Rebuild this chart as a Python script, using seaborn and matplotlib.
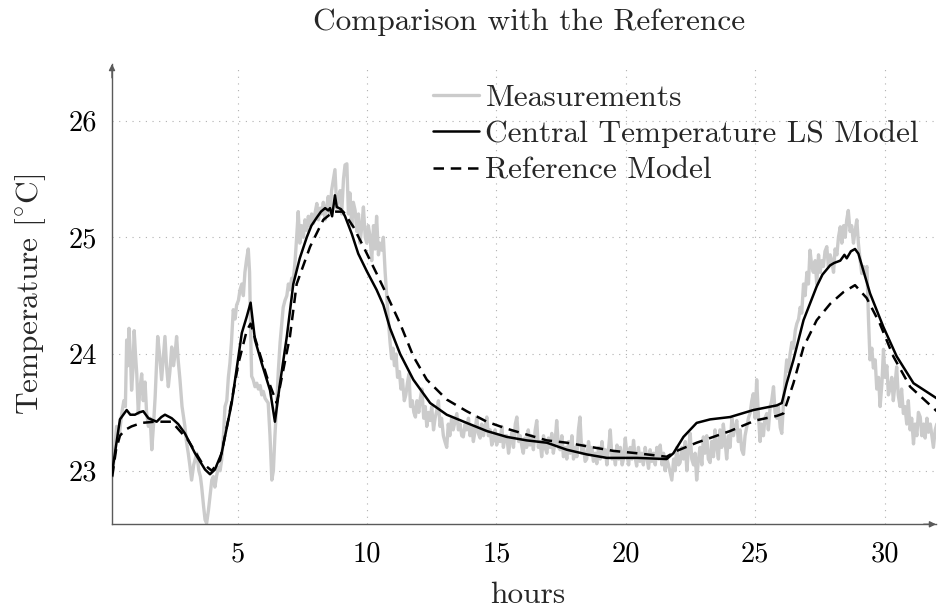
import matplotlib
matplotlib.use("Agg")
import matplotlib.pyplot as plt
import seaborn as sns
import pandas as pd

# ---------------- data ----------------
meas_hours = [
    0.15, 0.22, 0.32, 0.42, 0.52, 0.60, 0.66, 0.71, 0.76, 0.80,
    0.86, 0.90, 0.95, 1.00, 1.05, 1.10, 1.16, 1.22, 1.29, 1.35,
    1.42, 1.48, 1.55, 1.62, 1.68, 1.75, 1.81, 1.86, 1.91, 1.98,
    2.06, 2.12, 2.19, 2.25, 2.32, 2.38, 2.45, 2.52, 2.58, 2.64,
    2.70, 2.77, 2.85, 2.96, 3.02, 3.09, 3.15, 3.22, 3.30, 3.36,
    3.42, 3.50, 3.56, 3.61, 3.68, 3.74, 3.80, 3.87, 3.94, 4.00,
    4.06, 4.12, 4.18, 4.25, 4.32, 4.38, 4.45, 4.51, 4.58, 4.64,
    4.70, 4.76, 4.83, 4.90, 4.96, 5.03, 5.09, 5.16, 5.22, 5.28,
    5.35, 5.41, 5.46, 5.50, 5.54, 5.60, 5.67, 5.74, 5.80, 5.87,
    5.93, 5.99, 6.06, 6.12, 6.18, 6.25, 6.32, 6.38, 6.44, 6.51,
    6.57, 6.64, 6.70, 6.76, 6.83, 6.90, 6.96, 7.02, 7.09, 7.15,
    7.22, 7.28, 7.34, 7.40, 7.47, 7.54, 7.60, 7.67, 7.73, 7.80,
    7.86, 7.93, 8.00, 8.06, 8.12, 8.19, 8.25, 8.31, 8.38, 8.44,
    8.50, 8.57, 8.63, 8.70, 8.76, 8.83, 8.90, 8.96, 9.02, 9.09,
    9.15, 9.22, 9.28, 9.34, 9.41, 9.47, 9.54, 9.60, 9.67, 9.73,
    9.80, 9.86, 9.93, 9.99, 10.05, 10.12, 10.18, 10.25, 10.31, 10.37,
    10.44, 10.50, 10.57, 10.63, 10.70, 10.76, 10.82, 10.89, 10.95, 11.00,
    11.06, 11.12, 11.18, 11.25, 11.31, 11.37, 11.44, 11.50, 11.56, 11.62,
    11.68, 11.75, 11.81, 11.87, 11.93, 12.00, 12.06, 12.12, 12.19, 12.25,
    12.31, 12.38, 12.44, 12.50, 12.57, 12.63, 12.70, 12.76, 12.82, 12.88,
    12.95, 13.01, 13.08, 13.14, 13.20, 13.27, 13.33, 13.40, 13.47, 13.53,
    13.60, 13.66, 13.72, 13.79, 13.85, 13.92, 13.98, 14.05, 14.11, 14.18,
    14.24, 14.30, 14.37, 14.43, 14.50, 14.56, 14.63, 14.69, 14.76, 14.82,
    14.88, 14.95, 15.01, 15.08, 15.14, 15.21, 15.27, 15.34, 15.40, 15.47,
    15.53, 15.60, 15.66, 15.73, 15.79, 15.86, 15.92, 15.99, 16.04, 16.10,
    16.17, 16.23, 16.30, 16.36, 16.43, 16.50, 16.56, 16.62, 16.69, 16.75,
    16.82, 16.88, 16.95, 17.01, 17.08, 17.14, 17.20, 17.27, 17.33, 17.40,
    17.46, 17.53, 17.59, 17.66, 17.72, 17.79, 17.85, 17.92, 17.98, 18.05,
    18.11, 18.17, 18.23, 18.30, 18.36, 18.43, 18.49, 18.56, 18.62, 18.69,
    18.75, 18.82, 18.88, 18.95, 19.01, 19.08, 19.14, 19.21, 19.27, 19.34,
    19.40, 19.47, 19.53, 19.60, 19.66, 19.73, 19.79, 19.86, 19.91, 19.98,
    20.04, 20.11, 20.17, 20.24, 20.30, 20.36, 20.42, 20.49, 20.55, 20.62,
    20.68, 20.75, 20.81, 20.88, 20.94, 21.01, 21.07, 21.14, 21.20, 21.27,
    21.33, 21.40, 21.46, 21.52, 21.59, 21.65, 21.72, 21.78, 21.85, 21.91,
    21.97, 22.04, 22.10, 22.17, 22.23, 22.30, 22.36, 22.43, 22.49, 22.55,
    22.62, 22.68, 22.74, 22.81, 22.87, 22.94, 23.00, 23.06, 23.13, 23.19,
    23.26, 23.32, 23.39, 23.45, 23.52, 23.58, 23.64, 23.71, 23.77, 23.84,
    23.90, 23.97, 24.03, 24.10, 24.16, 24.23, 24.29, 24.35, 24.42, 24.48,
    24.55, 24.61, 24.68, 24.74, 24.81, 24.87, 24.93, 25.00, 25.06, 25.12,
    25.19, 25.25, 25.32, 25.38, 25.45, 25.51, 25.58, 25.64, 25.71, 25.77,
    25.84, 25.90, 25.97, 26.03, 26.10, 26.16, 26.22, 26.29, 26.35, 26.42,
    26.48, 26.55, 26.61, 26.68, 26.74, 26.80, 26.87, 26.93, 27.00, 27.06,
    27.12, 27.19, 27.25, 27.32, 27.38, 27.45, 27.51, 27.58, 27.64, 27.70,
    27.77, 27.83, 27.90, 27.96, 28.03, 28.09, 28.16, 28.22, 28.29, 28.35,
    28.42, 28.48, 28.54, 28.60, 28.67, 28.73, 28.80, 28.86, 28.93, 28.99,
    29.06, 29.12, 29.19, 29.25, 29.32, 29.38, 29.44, 29.51, 29.57, 29.64,
    29.70, 29.77, 29.83, 29.90, 29.96, 30.02, 30.09, 30.15, 30.21, 30.28,
    30.34, 30.41, 30.47, 30.53, 30.60, 30.66, 30.73, 30.79, 30.86, 30.92,
    30.99, 31.05, 31.12, 31.18, 31.25, 31.31, 31.38, 31.44, 31.51, 31.57,
    31.64, 31.70, 31.77, 31.83, 31.89, 31.96, 32.02,
]
meas_temp = [
    22.95, 23.10, 23.38, 23.30, 23.49, 23.60, 23.55, 24.12, 23.90, 24.22,
    23.95, 23.69, 23.85, 24.20, 24.00, 23.83, 23.49, 23.70, 23.83, 23.60,
    23.76, 23.50, 23.38, 23.45, 23.18, 23.40, 23.63, 23.90, 24.15, 24.00,
    23.78, 23.95, 24.15, 23.90, 23.72, 23.85, 24.06, 23.90, 24.00, 24.15,
    23.95, 23.78, 23.55, 23.38, 23.25, 23.15, 23.05, 22.92, 23.05, 23.10,
    23.15, 23.00, 22.95, 22.86, 22.70, 22.58, 22.55, 22.66, 22.80, 22.92,
    22.95, 22.86, 22.95, 23.03, 23.00, 23.09, 23.30, 23.55, 23.60, 23.80,
    23.92, 24.10, 24.38, 24.30, 24.42, 24.46, 24.55, 24.60, 24.50, 24.70,
    24.82, 24.90, 24.70, 24.20, 23.81, 23.78, 23.72, 23.75, 23.70, 23.73,
    23.65, 23.68, 23.62, 23.60, 23.58, 23.30, 22.92, 23.00, 23.30, 23.58,
    23.85, 24.10, 24.25, 24.40, 24.46, 24.50, 24.60, 24.55, 24.65, 24.63,
    24.80, 25.00, 25.22, 24.95, 25.10, 25.00, 25.15, 25.06, 25.18, 25.10,
    25.20, 25.12, 25.22, 25.29, 25.15, 25.25, 25.20, 25.30, 25.15, 25.26,
    25.35, 25.20, 25.40, 25.50, 25.58, 25.25, 25.35, 25.40, 25.20, 25.50,
    25.62, 25.63, 25.20, 25.38, 25.10, 25.30, 25.23, 25.05, 25.20, 24.95,
    25.10, 25.26, 25.00, 24.95, 25.10, 25.00, 24.80, 25.10, 24.90, 25.18,
    24.85, 24.95, 24.89, 25.00, 24.70, 24.50, 24.30, 24.10, 23.96, 24.05,
    23.90, 24.00, 23.80, 23.85, 23.70, 23.78, 23.60, 23.65, 23.75, 23.83,
    23.55, 23.60, 23.50, 23.46, 23.60, 23.50, 23.62, 23.70, 23.45, 23.55,
    23.38, 23.50, 23.43, 23.55, 23.35, 23.45, 23.52, 23.60, 23.38, 23.45,
    23.30, 23.25, 23.20, 23.40, 23.30, 23.45, 23.35, 23.42, 23.49, 23.35,
    23.40, 23.30, 23.29, 23.40, 23.35, 23.45, 23.30, 23.38, 23.25, 23.35,
    23.46, 23.32, 23.28, 23.40, 23.30, 23.38, 23.46, 23.30, 23.35, 23.22,
    23.26, 23.35, 23.22, 23.30, 23.25, 23.38, 23.20, 23.30, 23.30, 23.15,
    23.25, 23.33, 23.20, 23.40, 23.46, 23.25, 23.30, 23.20, 23.15, 23.28,
    23.20, 23.35, 23.22, 23.30, 23.18, 23.35, 23.43, 23.20, 23.25, 23.12,
    23.30, 23.20, 23.15, 23.28, 23.20, 23.32, 23.15, 23.25, 23.43, 23.20,
    23.18, 23.30, 23.12, 23.20, 23.10, 23.25, 23.15, 23.30, 23.10, 23.20,
    23.12, 23.35, 23.46, 23.15, 23.22, 23.08, 23.10, 23.25, 23.15, 23.20,
    23.08, 23.15, 23.06, 23.20, 23.10, 23.25, 23.12, 23.18, 23.05, 23.20,
    23.35, 23.10, 23.15, 23.05, 23.22, 23.10, 23.20, 23.05, 23.10, 23.28,
    23.15, 23.05, 23.20, 23.10, 23.26, 23.12, 23.04, 23.20, 23.08, 23.15,
    23.05, 23.20, 23.12, 23.02, 23.18, 23.08, 23.15, 23.05, 23.20, 23.10,
    23.22, 23.05, 23.15, 23.00, 23.10, 23.05, 22.98, 22.92, 23.10, 23.00,
    23.20, 23.05, 23.07, 23.20, 23.10, 23.25, 23.00, 23.20, 23.32, 23.10,
    23.05, 23.15, 22.92, 23.10, 23.20, 23.05, 23.29, 23.15, 23.30, 23.10,
    23.07, 23.25, 23.12, 23.35, 23.20, 23.10, 23.35, 23.20, 23.40, 23.25,
    23.10, 23.30, 23.20, 23.45, 23.30, 23.38, 23.43, 23.25, 23.35, 23.18,
    23.14, 23.30, 23.38, 23.45, 23.50, 23.60, 23.66, 23.45, 23.78, 23.50,
    23.25, 23.40, 23.30, 23.45, 23.49, 23.35, 23.55, 23.60, 23.72, 23.50,
    23.45, 23.55, 23.37, 23.32, 23.60, 23.80, 23.95, 23.85, 24.00, 24.10,
    24.05, 24.20, 24.26, 24.30, 24.40, 24.35, 24.60, 24.50, 24.70, 24.60,
    24.89, 24.75, 24.70, 24.80, 24.60, 24.85, 24.70, 24.80, 24.75, 24.88,
    24.92, 24.75, 24.85, 24.80, 24.70, 24.90, 24.85, 25.00, 25.09, 24.95,
    25.10, 25.00, 25.15, 25.23, 25.05, 25.10, 24.95, 25.05, 25.15, 24.95,
    24.80, 24.69, 24.75, 24.70, 24.75, 24.30, 23.95, 24.05, 23.88, 23.95,
    23.70, 23.80, 23.55, 23.75, 24.04, 23.80, 23.90, 23.65, 23.70, 23.80,
    23.60, 23.75, 23.89, 23.65, 23.55, 23.70, 23.49, 23.55, 23.40, 23.60,
    23.35, 23.45, 23.23, 23.40, 23.30, 23.50, 23.46, 23.30, 23.40, 23.28,
    23.45, 23.33, 23.40, 23.30, 23.20, 23.35, 23.40,
]

model_hours = [
    0.15, 0.45, 0.71, 0.85, 1.03, 1.20, 1.35, 1.55, 1.87, 2.05,
    2.19, 2.45, 2.70, 2.96, 3.35, 3.74, 3.93, 4.12, 4.38, 4.77,
    5.16, 5.35, 5.50, 5.67, 5.93, 6.25, 6.44, 6.63, 6.90, 7.15,
    7.40, 7.67, 7.85, 8.06, 8.22, 8.38, 8.50, 8.57, 8.65, 8.76,
    8.83, 9.00, 9.15, 9.41, 9.66, 9.99, 10.37, 10.63, 10.89, 11.28,
    11.79, 12.44, 13.08, 13.85, 14.63, 15.40, 16.17, 16.95, 17.72, 18.49,
    19.27, 20.43, 21.58, 21.84, 22.23, 22.74, 23.26, 24.03, 24.93, 25.84,
    26.03, 26.22, 26.48, 26.87, 27.38, 27.60, 27.90, 28.05, 28.29, 28.45,
    28.54, 28.70, 28.86, 28.99, 29.44, 29.96, 30.47, 31.12, 32.02,
]
model_temp = [
    22.99, 23.44, 23.52, 23.48, 23.48, 23.50, 23.51, 23.45, 23.42, 23.46,
    23.48, 23.45, 23.40, 23.32, 23.15, 23.01, 22.97, 23.01, 23.15, 23.58,
    24.18, 24.32, 24.44, 24.12, 23.92, 23.69, 23.42, 23.74, 24.15, 24.60,
    24.82, 25.00, 25.10, 25.17, 25.22, 25.25, 25.23, 25.25, 25.18, 25.36,
    25.26, 25.24, 25.18, 25.03, 24.86, 24.71, 24.55, 24.42, 24.22, 24.00,
    23.78, 23.58, 23.48, 23.41, 23.34, 23.29, 23.26, 23.24, 23.18, 23.14,
    23.11, 23.11, 23.10, 23.15, 23.29, 23.41, 23.44, 23.46, 23.52, 23.56,
    23.58, 23.75, 23.95, 24.29, 24.58, 24.68, 24.76, 24.78, 24.80, 24.85,
    24.82, 24.88, 24.90, 24.86, 24.52, 24.23, 23.98, 23.75, 23.62,
]

ref_hours = [
    0.15, 0.30, 0.45, 0.65, 0.90, 1.29, 1.81, 2.45, 3.09, 3.61,
    4.00, 4.32, 4.64, 5.03, 5.35, 5.50, 6.12, 6.51, 6.76, 7.02,
    7.28, 7.80, 8.31, 8.70, 9.08, 9.47, 9.86, 10.37, 10.82, 11.28,
    11.79, 12.31, 13.08, 13.85, 14.63, 15.40, 16.17, 16.95, 17.72, 18.49,
    19.52, 20.43, 21.58, 21.97, 22.74, 24.03, 25.00, 25.84, 26.09, 26.48,
    26.87, 27.38, 27.90, 28.41, 28.86, 29.31, 29.82, 30.34, 30.99, 32.02,
]
ref_temp = [
    22.95, 23.18, 23.30, 23.35, 23.38, 23.41, 23.42, 23.42, 23.26, 23.07,
    23.00, 23.09, 23.44, 23.92, 24.20, 24.26, 23.81, 23.58, 23.86, 24.15,
    24.60, 24.92, 25.15, 25.22, 25.22, 25.09, 24.92, 24.69, 24.48, 24.26,
    23.98, 23.78, 23.61, 23.51, 23.42, 23.36, 23.31, 23.26, 23.24, 23.21,
    23.17, 23.15, 23.12, 23.17, 23.24, 23.34, 23.43, 23.47, 23.49, 23.75,
    24.06, 24.29, 24.43, 24.53, 24.59, 24.48, 24.26, 23.98, 23.72, 23.51,
]

series_labels = ["Measurements", "Central Temperature LS Model", "Reference Model"]
x_ticks = [5, 10, 15, 20, 25, 30]
y_ticks = [23, 24, 25, 26]
title_text = "Comparison with the Reference"
x_label = "hours"
y_label = r"Temperature [$^{\circ}$C]"

# ---------------- style ----------------
sns.set_style("white")
plt.rcParams["font.family"] = ["cmr10", "DejaVu Serif"]
plt.rcParams["mathtext.fontset"] = "cm"
plt.rcParams["axes.unicode_minus"] = False
plt.rcParams["axes.formatter.use_mathtext"] = True

TXT = 22.6
W, H = 939, 613
fig = plt.figure(figsize=(W / 100, H / 100), dpi=100)
ax_l, ax_r, ax_t, ax_b = 112, 936, 64, 524.3
ax = fig.add_axes([ax_l / W, 1 - ax_b / H, (ax_r - ax_l) / W, (ax_b - ax_t) / H])

meas_df = pd.DataFrame({"hours": meas_hours, "temp": meas_temp})
model_df = pd.DataFrame({"hours": model_hours, "temp": model_temp})
ref_df = pd.DataFrame({"hours": ref_hours, "temp": ref_temp})

sns.lineplot(data=meas_df, x="hours", y="temp", ax=ax, color="#cbcbcb",
             linewidth=2.4, label=series_labels[0], estimator=None, sort=False,
             zorder=2)
sns.lineplot(data=model_df, x="hours", y="temp", ax=ax, color="black",
             linewidth=1.8, label=series_labels[1], estimator=None, sort=False,
             zorder=3)
sns.lineplot(data=ref_df, x="hours", y="temp", ax=ax, color="black",
             linewidth=1.8, linestyle=(0, (4.2, 2.7)), label=series_labels[2],
             estimator=None, sort=False, zorder=4)

ax.set_xlim(0.143, 31.99)
ax.set_ylim(22.541, 26.485)
ax.set_xticks(x_ticks)
ax.set_xticklabels([str(t) for t in x_ticks])
ax.set_yticks(y_ticks)
ax.set_yticklabels([str(t) for t in y_ticks])

ax.grid(True, linestyle=(0, (1, 5)), color="#b0b0b0", linewidth=0.8)
ax.set_axisbelow(True)

axis_col = "#5a5a5a"
for s in ["top", "right"]:
    ax.spines[s].set_visible(False)
for s in ["left", "bottom"]:
    ax.spines[s].set_color(axis_col)
    ax.spines[s].set_linewidth(1.0)

ax.tick_params(axis="both", direction="inout", length=9, width=1.0,
               color=axis_col, labelsize=20.5, labelcolor="black")
ax.tick_params(axis="x", pad=8)
ax.tick_params(axis="y", pad=6)

# arrow heads at the axis ends
ax.annotate("", xy=(1.0, 0.0), xytext=(0.985, 0.0), xycoords="axes fraction",
            arrowprops=dict(arrowstyle="-|>", color=axis_col, lw=1.0,
                            mutation_scale=9, shrinkA=0, shrinkB=0),
            annotation_clip=False)
ax.annotate("", xy=(0.0, 1.0), xytext=(0.0, 0.97), xycoords="axes fraction",
            arrowprops=dict(arrowstyle="-|>", color=axis_col, lw=1.0,
                            mutation_scale=9, shrinkA=0, shrinkB=0),
            annotation_clip=False)

ax.set_xlabel(x_label, fontsize=TXT)
ax.xaxis.label.set_va("center")
ax.xaxis.set_label_coords((528 - ax_l) / (ax_r - ax_l), -(595 - ax_b) / (ax_b - ax_t))
ax.set_ylabel(y_label, fontsize=TXT)
ax.yaxis.label.set_va("center")
ax.yaxis.set_label_coords(-(112 - 31) / (ax_r - ax_l), 0.5)

fig.text(529 / W, 1 - 22 / H, title_text, ha="center", va="center", fontsize=TXT)

leg = ax.legend(loc="upper left", bbox_to_anchor=(433 / W, 1 - 84 / H),
                bbox_transform=fig.transFigure, frameon=False, fontsize=TXT,
                handlelength=1.45, handletextpad=0.22, labelspacing=0.27,
                borderpad=0, borderaxespad=0)

fig.savefig("out.png", dpi=100)
